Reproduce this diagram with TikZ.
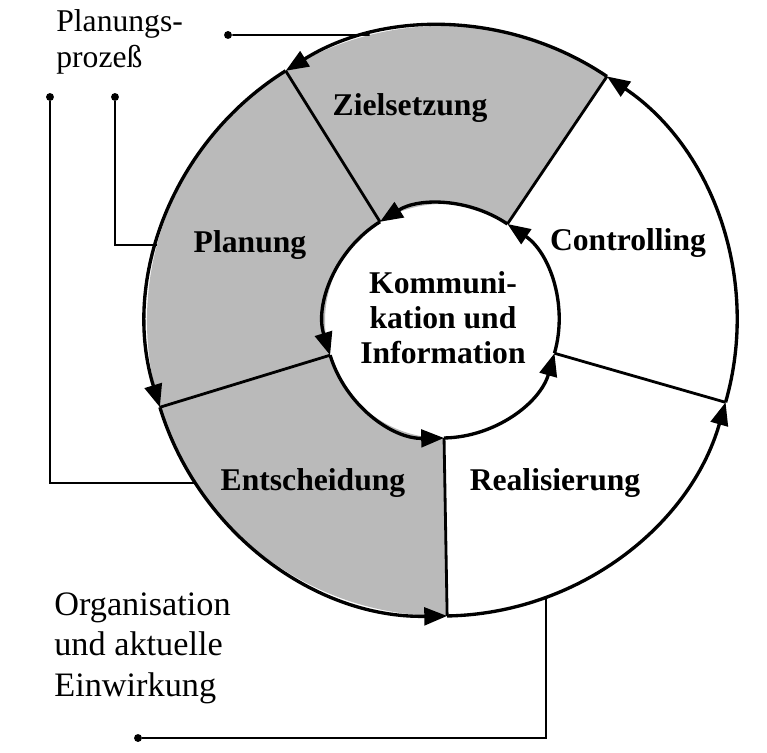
\documentclass[tikz,border=0pt]{standalone}
\usepackage{fontspec}
\setmainfont{Liberation Serif}
\usetikzlibrary{arrows.meta}

\begin{document}
\begin{tikzpicture}[
    ring/.style={line width=1.9pt, -{Triangle[length=13pt, width=10pt]}},
    spoke/.style={line width=1.6pt},
    link/.style={line width=1pt},
    shaded/.style={fill=black!27},
    phase/.style={font=\fontsize{18}{20}\selectfont\bfseries, align=center},
    note/.style={font=\fontsize{18}{20.5}\selectfont, align=left, inner sep=0pt},
    dot/.style={circle, fill, inner sep=0pt, minimum size=4.5pt}
]
\useasboundingbox (-8.84,-8.62) rectangle (6.5,6.42);

% Radii
\def\ro{5.9}
\def\ri{2.34}

% Shaded part of the ring
\fill[shaded] (56:\ri) -- (56:\ro) arc[start angle=56, end angle=271, radius=\ro]
    -- (271:\ri) arc[start angle=271, end angle=56, radius=\ri] -- cycle;

% Spoke ends
\foreach \a/\n in {56/1, 122/2, 197/3, 271/4, 344/5} {
    \coordinate (in\n) at (\a:\ri);
    \coordinate (out\n) at (\a:\ro);
}

% Outer and inner circle, counterclockwise
\foreach \n/\a/\b in {5/-16/56, 1/56/122, 2/122/197, 3/197/271, 4/271/344} {
    \draw[ring] (out\n) arc[start angle=\a, end angle=\b, radius=\ro];
    \draw[ring] (in\n) arc[start angle=\a, end angle=\b, radius=\ri];
}

% Spokes
\foreach \n in {1,...,5}
    \draw[spoke] (in\n) -- (out\n);

% Phases
\node[phase] (ziel) at (-0.64,4.26) {Zielsetzung};
\node[phase] (plan) at (-3.84,1.52) {Planung};
\node[phase] (entsch) at (-2.58,-3.24) {Entscheidung};
\node[phase] (real) at (2.26,-3.24) {Realisierung};
\node[phase] (contr) at (3.72,1.56) {Controlling};
\node[phase] (komm) at (0.02,0.06) {Kommuni-\\kation und\\Information};

% Side notes
\node[note, anchor=west] (prozess) at (-7.72,5.58) {Planungs-\\prozeß};
\node[note, anchor=west, font=\fontsize{19.5}{23}\selectfont] (orga) at (-7.76,-6.54) {Organisation\\und aktuelle\\Einwirkung};

% Brackets
\node[dot] (dot1) at (-4.28,5.72) {};
\node[dot] (dot2) at (-6.54,4.48) {};
\node[dot] (dot3) at (-7.84,4.48) {};
\node[dot] (dot4) at (-6.08,-8.34) {};
\coordinate (hit1) at (104.2:\ro);
\coordinate (hit2) at (165.1:\ro);
\coordinate (hit3) at (213.3:\ro);
\coordinate (hit4) at (-69.4:\ro);

\draw[link] (dot1) -- (hit1);
\draw[link] (dot2) |- (hit2);
\draw[link] (dot3) |- (hit3);
\draw[link] (dot4) -| (hit4);

\end{tikzpicture}
\end{document}
